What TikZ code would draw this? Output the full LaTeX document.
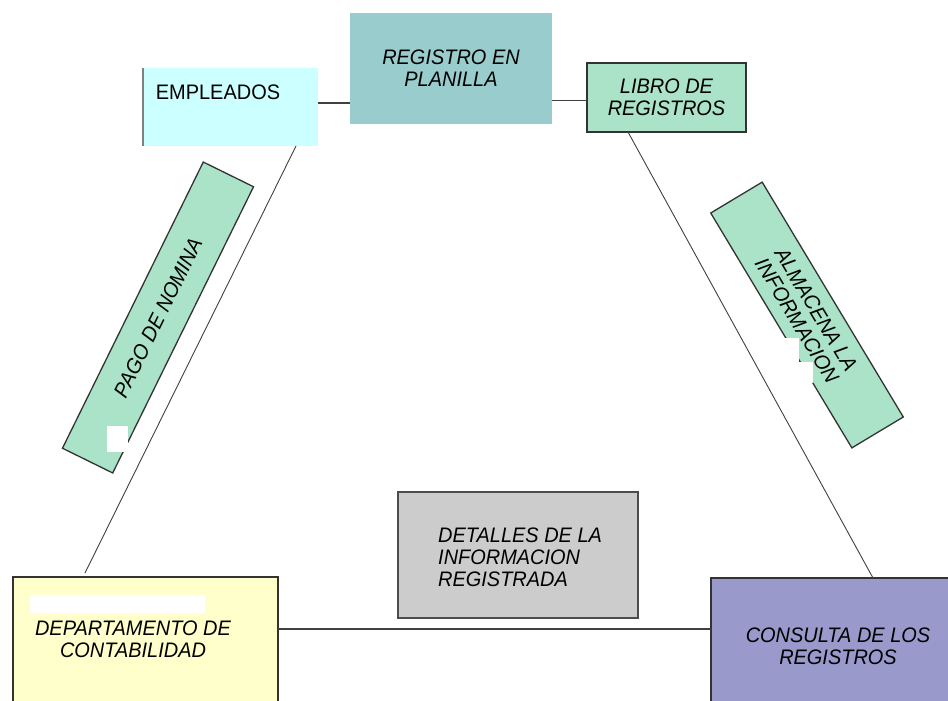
\documentclass[tikz,border=0pt]{standalone}
\usepackage{fontspec}
\setmainfont{Liberation Sans}[FakeStretch=0.95]
\definecolor{empcyan}{HTML}{CCFFFF}
\definecolor{regteal}{HTML}{99CCCC}
\definecolor{librogreen}{HTML}{AAE3C8}
\definecolor{detgray}{HTML}{CCCCCC}
\definecolor{deptyellow}{HTML}{FFFFCC}
\definecolor{consviolet}{HTML}{9999CC}
\begin{document}
\begin{tikzpicture}[x=1pt,y=-1pt,
  caja/.style={inner sep=0pt,outer sep=0pt},
  borde/.style={draw=black!80,line width=1.3pt},
  texto/.style={font=\fontsize{21}{22}\selectfont\itshape,align=center,inner sep=0pt},
  enlace/.style={draw=black!75,line width=1.1pt}]
  \useasboundingbox (0,0) rectangle (948,701);
  % top row
  \node[caja,fill=empcyan,minimum width=175,minimum height=78]            (emp)   at (230.5,107) {};
  \node[texto,font=\fontsize{21}{22}\selectfont] (empt) at (218,92) {EMPLEADOS};
  \draw[gray,line width=1.2pt] (emp.north west) -- (emp.south west);
  \node[caja,texto,fill=regteal,minimum width=202,minimum height=111]     (reg)   at (451,68.5) {REGISTRO EN\\PLANILLA};
  \node[caja,texto,borde,fill=librogreen,minimum width=159,minimum height=69] (libro) at (666.5,97.5) {LIBRO DE\\REGISTROS};
  % slanted labels
  \node[caja,texto,borde,fill=librogreen,rotate=63.8,minimum width=319,minimum height=56] (pago) at (158,317.5) {PAGO DE NOMINA};
  \node[caja,texto,borde,fill=librogreen,rotate=-59,minimum width=274,minimum height=60]  (alm)  at (807,315)   {ALMACENA LA\\INFORMACION};
  \fill[white] (107,426) rectangle (128,452);
  \fill[white] (785,338) rectangle (799,383);
  \fill[white] (799,362) rectangle (813,383);
  % bottom row
  \node[caja,draw=black!70,line width=1.2pt,fill=detgray,minimum width=240,minimum height=126] (det) at (518,555) {};
  \node[texto,align=left,anchor=west] (dett) at (438,557) {DETALLES DE LA\\INFORMACION\\REGISTRADA};
  \node[caja,borde,fill=deptyellow,minimum width=265,minimum height=126] (dept) at (145.5,640) {};
  \fill[white] (30,595) rectangle (205,613);
  \node[texto] (deptt) at (133,639) {DEPARTAMENTO DE\\CONTABILIDAD};
  \node[caja,borde,fill=consviolet,minimum width=241,minimum height=125] (cons) at (831.5,640.5) {};
  \node[texto] (const) at (838,646) {CONSULTA DE LOS\\REGISTROS};
  % connectors
  \draw[enlace] ([yshift=4pt]emp.east) -- ([yshift=4pt]emp.east -| reg.west);
  \draw[enlace] ([yshift=-3pt]libro.west -| reg.east) -- ([yshift=-3pt]libro.west);
  \draw[enlace,line width=0.9pt] ([xshift=-22pt]emp.south east) -- ([xshift=72pt,yshift=4pt]dept.north west);
  \draw[enlace,line width=0.9pt] ([xshift=41pt]libro.south west) -- ([xshift=162pt]cons.north west);
  \draw[enlace] ([yshift=11pt]dept.east) -- ([yshift=11pt]dept.east -| cons.west);
\end{tikzpicture}
\end{document}
